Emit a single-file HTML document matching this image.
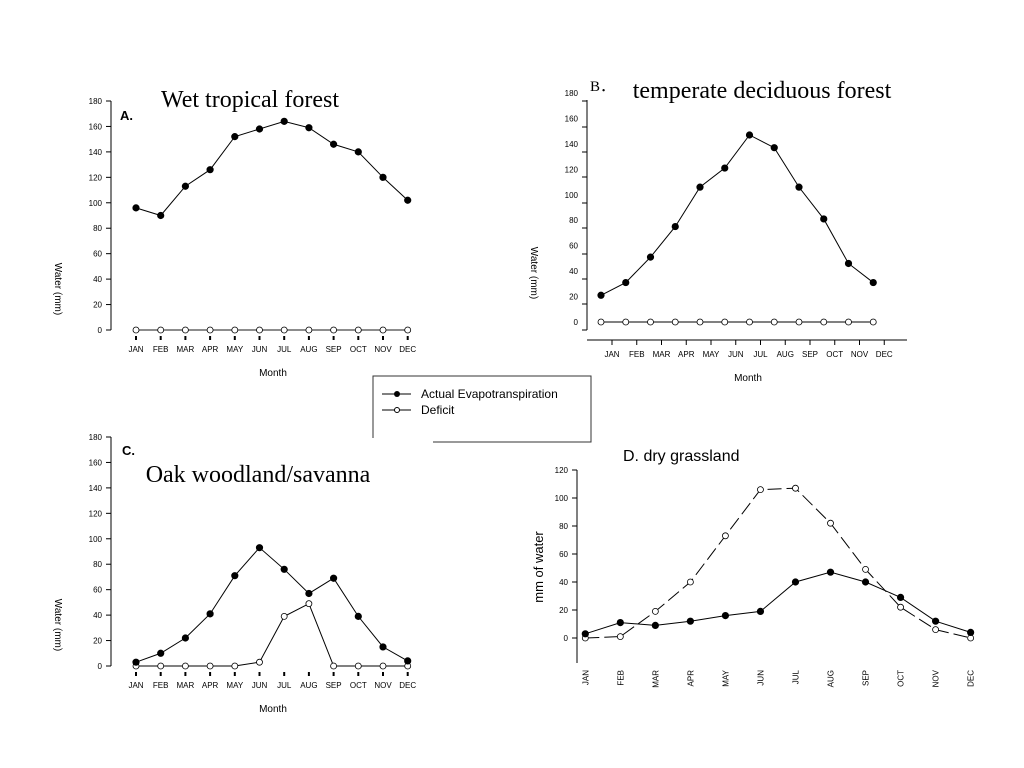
<!DOCTYPE html>
<html><head><meta charset="utf-8"><style>
html,body{margin:0;padding:0;background:#fff;}
svg{display:block;font-family:"Liberation Sans",Arial,sans-serif;}
</style></head><body>
<svg id="s" width="1024" height="768" viewBox="0 0 1024 768" xmlns="http://www.w3.org/2000/svg">
<text x="250" y="107" font-family="Liberation Serif,serif" font-size="24" text-anchor="middle">Wet tropical forest</text>
<text x="120" y="120" font-size="13" font-weight="bold">A.</text>
<text x="590" y="91" font-family="Liberation Serif,serif" font-size="15">B．</text>
<text x="762" y="98" font-family="Liberation Serif,serif" font-size="24" text-anchor="middle">temperate deciduous forest</text>
<text x="122" y="455" font-size="13" font-weight="bold">C.</text>
<text x="258" y="482" font-family="Liberation Serif,serif" font-size="24" text-anchor="middle">Oak woodland/savanna</text>
<text x="623" y="461" font-size="16">D. dry grassland</text>
<g>
<path d="M373,438 V376 H591 V442 H433" fill="none" stroke="#333" stroke-width="1"/>
<line x1="382" y1="394" x2="411" y2="394" stroke="#000"/><circle cx="397" cy="394" r="3" fill="#000"/>
<text x="421" y="398" font-size="12">Actual Evapotranspiration</text>
<line x1="382" y1="410" x2="411" y2="410" stroke="#000"/><circle cx="397" cy="410" r="2.5" fill="#fff" stroke="#000"/>
<text x="421" y="414" font-size="12">Deficit</text>
</g>
</svg>
<script>
const months=["JAN","FEB","MAR","APR","MAY","JUN","JUL","AUG","SEP","OCT","NOV","DEC"];
const ticksA=[0,20,40,60,80,100,120,140,160,180];
const ticksD=[0,20,40,60,80,100,120];
const etA=[96,90,113,126,152,158,164,159,146,140,120,102];
const defA=[0,0,0,0,0,0,0,0,0,0,0,0];
const etB=[21,31,51,75,106,121,147,137,106,81,46,31];
const defB=[0,0,0,0,0,0,0,0,0,0,0,0];
const etC=[3,10,22,41,71,93,76,57,69,39,15,4];
const defC=[0,0,0,0,0,3,39,49,0,0,0,0];
const etD=[3,11,9,12,16,19,40,47,40,29,12,4];
const defD=[0,1,19,40,73,106,107,82,49,22,6,0];
const NS="http://www.w3.org/2000/svg";
const svg=document.getElementById('s');
function el(t,a,p){const e=document.createElementNS(NS,t);for(const k in a)e.setAttribute(k,a[k]);(p||svg).appendChild(e);return e;}
function panel(o){
  const g=el('g',{});
  
  
  const y=v=>o.y0-(v-o.vmin)/(o.vmax-o.vmin)*(o.y0-o.y1);
  const x=i=>o.x0+i*o.dx;
  // y axis
  const ax=el('line',{x1:o.ax,x2:o.ax,y1:o.axTop,y2:o.axBot,stroke:'#000','stroke-width':1},g);
  
  o.ticks.forEach((t,i)=>{
    const ty=(o.tickPos?o.tickPos[i]:y(t));
    el('line',{x1:o.ax-5,x2:o.ax,y1:ty,y2:ty,stroke:'#000'},g);
    const tx=el('text',{x:o.ax-9,y:y(t)+3,'font-size':8,'text-anchor':'end'},g);
    tx.textContent=t;
    
  });
  if(o.extraTick)el('line',{x1:o.ax-5,x2:o.ax,y1:o.extraTick,y2:o.extraTick,stroke:'#000'},g);
  // ylabel
  const yl=el('text',{x:0,y:0,'font-size':o.ylSize,'text-anchor':'middle',transform:`translate(${o.ylx},${o.yly}) rotate(90)`},g);
  if(o.ylRot<0)yl.setAttribute('transform',`translate(${o.ylx},${o.yly}) rotate(-90)`);
  yl.textContent=o.ylabel;
  
  // x ticks & labels
  months.forEach((m,i)=>{
    const tx0=x(i)+(o.xTickOff||0);
    if(o.xaxis==='line'){el('line',{x1:tx0,x2:tx0,y1:o.xLineY,y2:o.xLineY+5,stroke:'#000'},g);}
    else if(o.xaxis==='dash'){el('line',{x1:tx0,x2:tx0,y1:o.xLineY,y2:o.xLineY+4,stroke:'#000','stroke-width':2},g);}
    else if(o.xaxis==='small'){el('line',{x1:tx0,x2:tx0,y1:o.xLineY,y2:o.xLineY+4,stroke:'#000'},g);}
    let t;
    if(o.rot){t=el('text',{x:0,y:0,'font-size':8,'text-anchor':'end',transform:`translate(${tx0+3},${o.xLabY}) rotate(-90)`},g);}
    else t=el('text',{x:tx0,y:o.xLabY,'font-size':8,'text-anchor':'middle'},g);
    t.textContent=m;
    
  });
  if(o.xaxis==='line'){el('line',{x1:o.ax,x2:o.xLineEnd,y1:o.xLineY,y2:o.xLineY,stroke:'#000'},g);}
  if(o.xAxisLeft){el('line',{x1:o.ax,x2:o.ax,y1:o.axBot,y2:o.axBot,stroke:'#000'},g);}
  if(o.xlabel){const xl=el('text',{x:o.xlx,y:o.xly,'font-size':10,'text-anchor':'middle'},g);xl.textContent='Month';
    }
  // series
  [[o.def,false],[o.et,true]].forEach(([d,filled])=>{
    const pts=d.map((v,i)=>x(i)+','+y(v)).join(' ');
    const pl=el('polyline',{points:pts,fill:'none',stroke:filled?'#000':(o.defColor||'#000'),'stroke-width':filled?1:(o.defW||1)},g);
    if(!filled&&o.dash)pl.setAttribute('stroke-dasharray','14,5');
    
    d.forEach((v,i)=>{
      const c=el('circle',{cx:x(i),cy:y(v),r:filled?3.2:3,fill:filled?'#000':'#fff',stroke:'#000','stroke-width':0.8},g);
      
      
    });
  });
}
panel({name:'panel-a',et:etA,def:defA,ticks:ticksA,vmin:0,vmax:180,y0:330,y1:101,x0:136,dx:24.7,ax:111,axTop:101,axBot:330,
  ylabel:'Water (mm)',ylSize:10,ylx:55,yly:289,ylRot:1,xaxis:'dash',xLineY:336,xLabY:352,xlabel:true,xlx:273,xly:376,defColor:'#666',defW:1.6});
panel({name:'panel-b',et:etB,def:defB,ticks:ticksA,vmin:0,vmax:180,y0:322,y1:93,x0:601,dx:24.75,ax:587,axTop:100,axBot:330,
  tickPos:[330,304,279,254,228,203,177,152,127,101],
  ylabel:'Water (mm)',ylSize:10,ylx:531,yly:273,ylRot:1,xaxis:'line',xTickOff:11,xLineY:340,xLineEnd:907,xLabY:357,xlabel:true,xlx:748,xly:381});
panel({name:'panel-c',et:etC,def:defC,ticks:ticksA,vmin:0,vmax:180,y0:666,y1:437,x0:136,dx:24.7,ax:111,axTop:437,axBot:666,
  ylabel:'Water (mm)',ylSize:10,ylx:55,yly:625,ylRot:1,xaxis:'dash',xLineY:672,xLabY:688,xlabel:true,xlx:273,xly:712});
panel({name:'panel-d',et:etD,def:defD,ticks:ticksD,vmin:0,vmax:120,y0:638,y1:470,x0:585.3,dx:35.03,ax:577,axTop:470,axBot:663,extraTick:null,
  ylabel:'mm of water',ylSize:13,ylx:543,yly:567,ylRot:-1,xaxis:'none',rot:true,xLabY:670,xlabel:false,dash:true});
</script>
</body></html>
